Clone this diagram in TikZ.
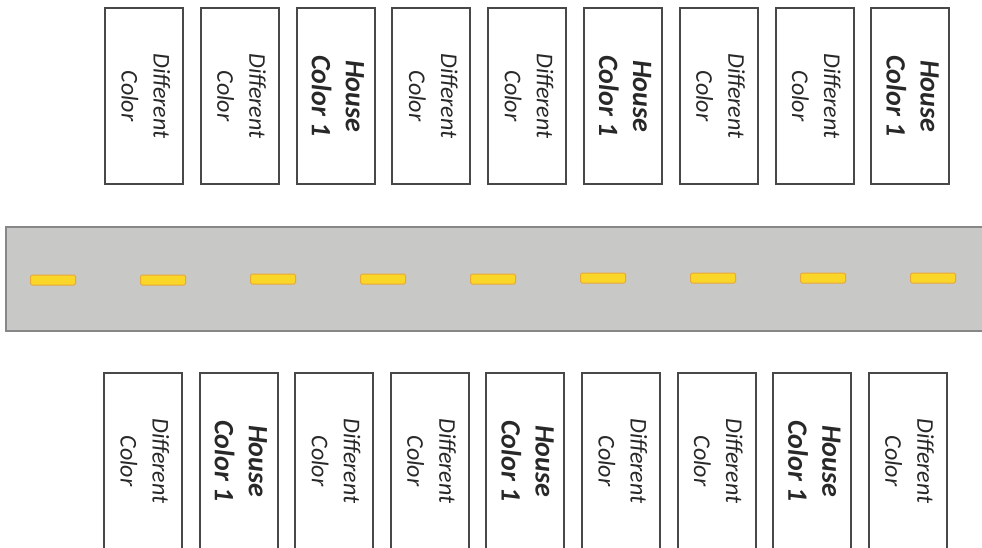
\documentclass[tikz,border=0pt]{standalone}
\usepackage{fontspec}
\setmainfont{Carlito}
\usepackage{graphicx}
\usetikzlibrary{positioning,calc}
\definecolor{boxgray}{RGB}{72,72,72}
\definecolor{inkgray}{RGB}{40,40,40}
\definecolor{roadgray}{RGB}{200,200,198}
\definecolor{roadedge}{RGB}{135,135,135}
\definecolor{laneyellow}{RGB}{250,214,40}
\definecolor{laneedge}{RGB}{232,168,58}
\def\lotgap{17.8pt}
\newcommand\difftext{\rotatebox{-90}{\fontsize{24}{32}\selectfont\itshape
  \begin{tabular}{@{}c@{}}Different\\Color\end{tabular}}}
\newcommand\housetext{\rotatebox{-90}{\fontsize{28}{34}\selectfont\bfseries\itshape
  \begin{tabular}{@{}c@{}}House\\Color 1\end{tabular}}}

\begin{document}
\begin{tikzpicture}[x=1pt,y=-1pt,
  lot/.style={draw=boxgray, line width=2pt, fill=white, text=inkgray,
    minimum width=78pt, minimum height=176pt, inner sep=0pt, outer sep=0pt},
  lanemark/.style={draw=laneedge, fill=laneyellow, line width=1pt,
    minimum width=45pt, minimum height=10pt, inner sep=0pt, rounded corners=1.5pt}
]
\useasboundingbox (0,0) rectangle (982,548);

% houses above the road
\node[lot] (T1) at (144,96) {\difftext};
\node[lot, right=\lotgap of T1] (T2) {\difftext};
\node[lot, right=\lotgap of T2] (T3) {\housetext};
\node[lot, right=\lotgap of T3] (T4) {\difftext};
\node[lot, right=\lotgap of T4] (T5) {\difftext};
\node[lot, right=\lotgap of T5] (T6) {\housetext};
\node[lot, right=\lotgap of T6] (T7) {\difftext};
\node[lot, right=\lotgap of T7] (T8) {\difftext};
\node[lot, right=\lotgap of T8] (T9) {\housetext};

% the road
\draw[roadedge, fill=roadgray, line width=1.2pt] (6,227) rectangle (992,331);
\node[lanemark] (L1) at (53,280) {};
\node[lanemark] (L2) at ($ (L1) + (110,0) $) {};
\node[lanemark] (L3) at ($ (L2) + (110,-1) $) {};
\node[lanemark] (L4) at ($ (L3) + (110,0) $) {};
\node[lanemark] (L5) at ($ (L4) + (110,0) $) {};
\node[lanemark] (L6) at ($ (L5) + (110,-1) $) {};
\node[lanemark] (L7) at ($ (L6) + (110,0) $) {};
\node[lanemark] (L8) at ($ (L7) + (110,0) $) {};
\node[lanemark] (L9) at ($ (L8) + (110,0) $) {};

% houses below the road
\node[lot] (B1) at (143,461) {\difftext};
\node[lot, right=17.6pt of B1] (B2) {\housetext};
\node[lot, right=17.6pt of B2] (B3) {\difftext};
\node[lot, right=17.6pt of B3] (B4) {\difftext};
\node[lot, right=17.6pt of B4] (B5) {\housetext};
\node[lot, right=17.6pt of B5] (B6) {\difftext};
\node[lot, right=17.6pt of B6] (B7) {\difftext};
\node[lot, right=17.6pt of B7] (B8) {\housetext};
\node[lot, right=17.6pt of B8] (B9) {\difftext};

\end{tikzpicture}
\end{document}
